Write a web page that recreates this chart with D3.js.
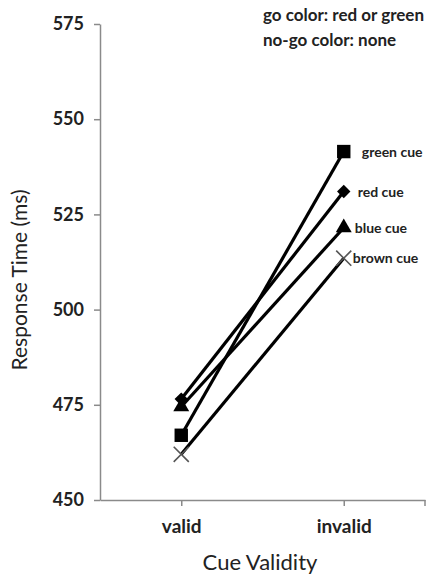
<!DOCTYPE html>
<html>
<head>
<meta charset="utf-8">
<script src="https://cdn.jsdelivr.net/npm/d3@7"></script>
<style>
  body { margin: 0; background: #fff; }
  text { font-family: Lato, "Open Sans", sans-serif; fill: #222; }
</style>
</head>
<body>
<script>
// chart data
const categories = ['valid', 'invalid'];
const cues = ['green cue', 'red cue', 'blue cue', 'brown cue'];
const greenCue = [467, 541.5];
const redCue = [476.5, 531];
const blueCue = [474.5, 521.5];
const brownCue = [462, 513.5];
const yTicks = [450, 475, 500, 525, 550, 575];
const notes = ['go color: red or green', 'no-go color: none'];

const series = [
    {name: cues[0], values: greenCue, shape: 'square'},
    {name: cues[1], values: redCue, shape: 'diamond'},
    {name: cues[2], values: blueCue, shape: 'triangle'},
    {name: cues[3], values: brownCue, shape: 'x'}
];

const width = 430, height = 577;
const margin = {left: 100, right: 425, top: 24, bottom: 500};

const svg = d3.select('body').append('svg')
    .attr('width', width)
    .attr('height', height);

const x = d3.scalePoint()
    .domain(categories)
    .range([margin.left, margin.right])
    .padding(0.5);

const y = d3.scaleLinear()
    .domain([450, 575])
    .range([margin.bottom, margin.top]);

// y axis
const yAxis = d3.axisLeft(y)
    .tickValues(yTicks)
    .tickSize(6)
    .tickSizeOuter(0)
    .tickPadding(10);

const gy = svg.append('g')
    .attr('transform', 'translate(' + margin.left + ',0)')
    .call(yAxis);
gy.select('.domain').attr('stroke', '#8a8a8a').attr('stroke-width', 1.5);
gy.selectAll('.tick line').attr('stroke', '#8a8a8a').attr('stroke-width', 1.5);
gy.selectAll('.tick text')
    .style('font-size', '18px')
    .style('font-weight', 'bold')
    .attr('fill', '#222');

// x axis
const xAxis = d3.axisBottom(x)
    .tickSize(6)
    .tickSizeOuter(0)
    .tickPadding(14);

const gx = svg.append('g')
    .attr('transform', 'translate(0,' + margin.bottom + ')')
    .call(xAxis);
gx.select('.domain').attr('stroke', '#8a8a8a').attr('stroke-width', 1.5);
gx.selectAll('.tick line').attr('stroke', '#8a8a8a').attr('stroke-width', 1.5);
gx.selectAll('.tick text')
    .style('font-size', '19px')
    .style('font-weight', 'bold')
    .attr('fill', '#222');
gx.append('line')
    .attr('x1', margin.right).attr('x2', margin.right)
    .attr('y1', 0).attr('y2', 6)
    .attr('stroke', '#8a8a8a')
    .attr('stroke-width', 1.5);

// axis titles
svg.append('text')
    .attr('transform', 'translate(27,280) rotate(-90)')
    .attr('text-anchor', 'middle')
    .style('font-size', '21px')
    .text('Response Time (ms)');

svg.append('text')
    .attr('x', 260)
    .attr('y', 570)
    .attr('text-anchor', 'middle')
    .style('font-size', '22px')
    .text('Cue Validity');

// lines
const line = d3.line()
    .x(function(d, i) { return x(categories[i]); })
    .y(function(d) { return y(d); });

svg.selectAll('.cue-line')
    .data(series)
    .enter().append('path')
    .attr('class', 'cue-line')
    .attr('d', function(d) { return line(d.values); })
    .attr('fill', 'none')
    .attr('stroke', '#000')
    .attr('stroke-width', 3.2);

// markers
const symbolType = {
    square: d3.symbolSquare,
    diamond: d3.symbolSquare,
    triangle: d3.symbolTriangle,
    x: d3.symbolX
};
const symbolSize = {square: 180, diamond: 90, triangle: 110, x: 150};

series.forEach(function(s) {
    svg.selectAll(null)
        .data(s.values)
        .enter().append('path')
        .attr('transform', function(d, i) {
            return 'translate(' + x(categories[i]) + ',' + y(d) + ')' +
                (s.shape === 'diamond' ? ' rotate(45)' : '');
        })
        .attr('d', d3.symbol().type(symbolType[s.shape]).size(symbolSize[s.shape]))
        .attr('fill', s.shape === 'x' ? 'none' : '#000')
        .attr('stroke', s.shape === 'x' ? '#555' : 'none')
        .attr('stroke-width', 1.6);
});

// series labels at the invalid end
const labelOffset = {square: 18, diamond: 14, triangle: 11, x: 9};
svg.selectAll('.cue-label')
    .data(series)
    .enter().append('text')
    .attr('class', 'cue-label')
    .attr('x', function(d) { return x('invalid') + labelOffset[d.shape]; })
    .attr('y', function(d) { return y(d.values[1]) + 5; })
    .style('font-size', '14px')
    .style('font-weight', 'bold')
    .text(function(d) { return d.name; });

// note at top right
svg.selectAll('.note')
    .data(notes)
    .enter().append('text')
    .attr('class', 'note')
    .attr('x', 263)
    .attr('y', function(d, i) { return 21 + i * 25; })
    .style('font-size', '17px')
    .style('font-weight', 'bold')
    .text(function(d) { return d; });
</script>
</body>
</html>
